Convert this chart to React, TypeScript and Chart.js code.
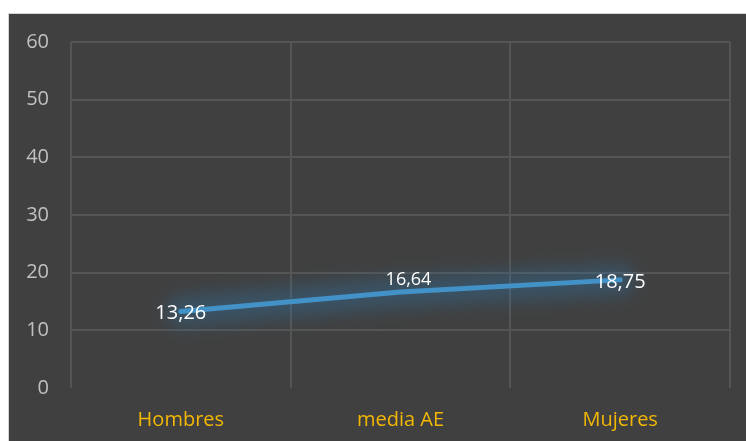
import React, { useEffect, useRef } from "react";
import { Chart, registerables } from "chart.js";

Chart.register(...registerables);

const categories = ["Hombres", "media AE", "Mujeres"];
const values = [13.26, 16.64, 18.75];
const valueLabels = ["13,26", "16,64", "18,75"];
const yTicks = [0, 10, 20, 30, 40, 50, 60];

// Soft blue halo drawn under the line
const glowPlugin = {
  id: "lineGlow",
  beforeDatasetDraw(chart: any) {
    const ctx = chart.ctx;
    const pts = chart.getDatasetMeta(0).data;
    ctx.save();
    ctx.filter = "blur(9px)";
    ctx.strokeStyle = "rgba(45,125,185,0.32)";
    ctx.lineWidth = 30;
    ctx.lineCap = "round";
    ctx.lineJoin = "round";
    ctx.beginPath();
    pts.forEach((p: any, i: number) => (i ? ctx.lineTo(p.x, p.y) : ctx.moveTo(p.x, p.y)));
    ctx.stroke();
    ctx.restore();
  },
};

// Value labels in white, placed like the spreadsheet's default
const labelOffsets = [
  { dx: 0, dy: 2, size: 20 },
  { dx: 8, dy: -12, size: 18 },
  { dx: 0, dy: 2, size: 20 },
];

const valueLabelPlugin = {
  id: "valueLabels",
  afterDatasetsDraw(chart: any) {
    const ctx = chart.ctx;
    const meta = chart.getDatasetMeta(0);
    ctx.save();
    ctx.fillStyle = "#ffffff";
    ctx.textAlign = "center";
    ctx.textBaseline = "middle";
    meta.data.forEach((pt: any, i: number) => {
      const o = labelOffsets[i];
      ctx.font = `${o.size}px "Open Sans", sans-serif`;
      ctx.fillText(valueLabels[i], pt.x + o.dx, pt.y + o.dy);
    });
    ctx.restore();
  },
};

export default function App() {
  const canvasRef = useRef<HTMLCanvasElement | null>(null);

  useEffect(() => {
    if (!canvasRef.current) return;
    const chart = new Chart(canvasRef.current, {
      type: "line",
      data: {
        labels: categories,
        datasets: [
          {
            data: values,
            borderColor: "#4292c8",
            borderWidth: 5,
            borderCapStyle: "round",
            pointRadius: 0,
            tension: 0,
            fill: false,
          },
        ],
      },
      options: {
        animation: false,
        responsive: false,
        maintainAspectRatio: false,
        layout: { padding: { left: 0, top: 28, right: 16, bottom: 0 } },
        plugins: {
          legend: { display: false },
          tooltip: { enabled: false },
        },
        scales: {
          x: {
            offset: true,
            grid: {
              offset: true,
              color: "#555555",
              lineWidth: 2,
              drawTicks: false,
            },
            border: { display: false },
            ticks: {
              color: "#f2b705",
              padding: 20,
              font: { family: "'Open Sans', sans-serif", size: 20 },
            },
            afterFit(scale: any) {
              scale.height = 53;
              scale.paddingLeft = 0;
              scale.paddingRight = 0;
            },
          },
          y: {
            min: 0,
            max: 60,
            afterBuildTicks(scale: any) {
              scale.ticks = yTicks.map((v) => ({ value: v }));
            },
            grid: {
              color: (c: any) => (c.tick && c.tick.value === 0 ? "rgba(0,0,0,0)" : "#555555"),
              lineWidth: 2,
              drawTicks: false,
            },
            border: { display: false },
            ticks: {
              color: "#c0c0c0",
              padding: 22,
              font: { family: "'Open Sans', sans-serif", size: 20 },
            },
            afterFit(scale: any) {
              scale.width = 62;
              scale.paddingTop = 0;
              scale.paddingBottom = 0;
            },
          },
        },
      },
      plugins: [glowPlugin, valueLabelPlugin],
    });
    return () => chart.destroy();
  }, []);

  return (
    <div
      style={{
        position: "absolute",
        left: 8,
        top: 13,
        width: 737,
        height: 427,
        background: "#404040",
        borderLeft: "1px solid #d4d4d4",
        borderTop: "1px solid #d4d4d4",
        overflow: "hidden",
      }}
    >
      <canvas ref={canvasRef} width={737} height={427} style={{ display: "block" }} />
    </div>
  );
}
